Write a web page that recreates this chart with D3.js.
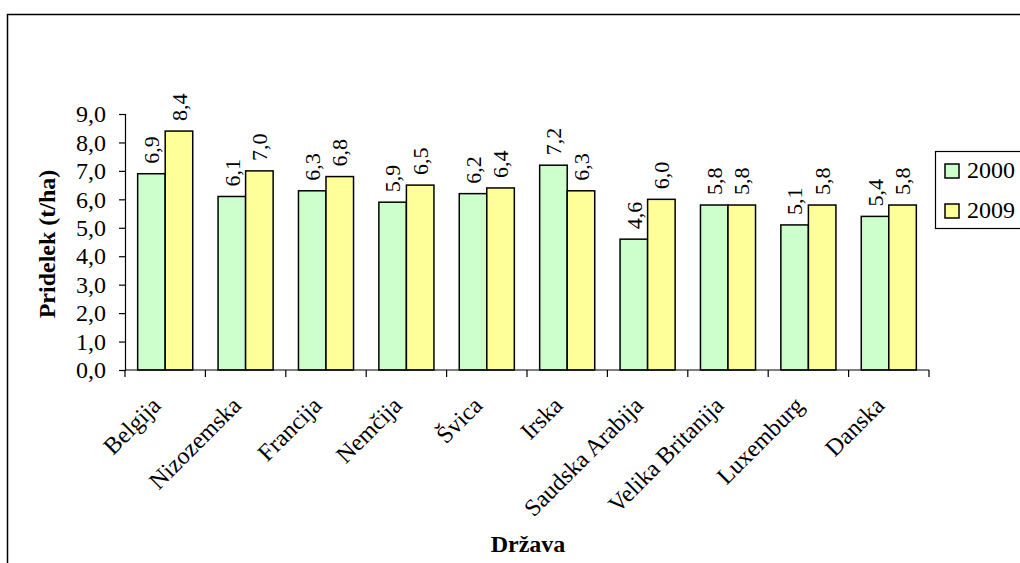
<!DOCTYPE html>
<html>
<head>
<meta charset="utf-8">
<script src="https://cdn.jsdelivr.net/npm/d3@7"></script>
<style>
  html, body { margin: 0; padding: 0; background: #fff; }
  svg { display: block; }
</style>
</head>
<body>
<svg id="chart" width="1020" height="563"></svg>
<script>
// Yield per country (t/ha), 2000 vs 2009
const countries = ["Belgija", "Nizozemska", "Francija", "Nemčija", "Švica", "Irska",
                   "Saudska Arabija", "Velika Britanija", "Luxemburg", "Danska"];
const years = ["2000", "2009"];
const yield2000 = [6.9, 6.1, 6.3, 5.9, 6.2, 7.2, 4.6, 5.8, 5.1, 5.4];
const yield2009 = [8.4, 7.0, 6.8, 6.5, 6.4, 6.3, 6.0, 5.8, 5.8, 5.8];
const yTicks = [0, 1, 2, 3, 4, 5, 6, 7, 8, 9];
const colors = ["#CCFFCC", "#FFFF99"];

const series = [yield2000, yield2009];
const rows = countries.map((c, i) => ({ country: c, values: years.map((yr, j) => ({ year: yr, j, value: series[j][i] })) }));

const svg = d3.select("#chart");
const fmt = v => d3.format(".1f")(v).replace(".", ",");

// pick the first serif face that actually resolves (differs from the default sans width)
function pickSerif() {
  const probe = svg.append("text").attr("x", -999).attr("y", -999).style("font-size", "40px").text("Država Belgija 2000");
  probe.style("font-family", "sans-serif");
  const base = probe.node().getComputedTextLength();
  const candidates = ["Liberation Serif", "Times New Roman", "Times", "Tinos", "Noto Serif", "DejaVu Serif"];
  let found = "serif";
  for (const f of candidates) {
    probe.style("font-family", `'${f}', sans-serif`);
    if (Math.abs(probe.node().getComputedTextLength() - base) > 0.5) { found = `'${f}'`; break; }
  }
  probe.remove();
  return found + ", serif";
}
const FONT = pickSerif();

// outer frame
svg.append("rect")
  .attr("x", 7.5).attr("y", 14.5)
  .attr("width", 1040).attr("height", 580)
  .attr("fill", "none").attr("stroke", "#000").attr("stroke-width", 1.5);

const x = d3.scaleBand().domain(countries).range([125, 929]).paddingInner(0).paddingOuter(0);
const xYear = d3.scaleBand().domain(years).range([0, x.bandwidth()]).paddingInner(0).paddingOuter(0.46);
const y = d3.scaleLinear().domain([0, 9]).range([370, 114]);

// bars
const groups = svg.append("g").selectAll("g")
  .data(rows).join("g")
  .attr("transform", d => `translate(${x(d.country)},0)`);

groups.selectAll("rect")
  .data(d => d.values).join("rect")
  .attr("x", d => xYear(d.year))
  .attr("y", d => y(d.value))
  .attr("width", xYear.bandwidth())
  .attr("height", d => y(0) - y(d.value))
  .attr("fill", d => colors[d.j])
  .attr("stroke", "#000").attr("stroke-width", 1.5);

// value labels
groups.selectAll("text")
  .data(d => d.values).join("text")
  .attr("transform", d => `translate(${xYear(d.year) + xYear.bandwidth() / 2},${y(d.value) - 10}) rotate(-90)`)
  .attr("dy", "0.35em")
  .attr("text-anchor", "start")
  .style("font-family", FONT)
  .style("font-size", "22px")
  .text(d => fmt(d.value));

// y axis
const yAxis = svg.append("g")
  .attr("transform", "translate(125,0)")
  .call(d3.axisLeft(y).tickValues(yTicks).tickSize(6).tickPadding(13).tickFormat(fmt));
yAxis.select(".domain").attr("stroke", "#000").attr("stroke-width", 1.2);
yAxis.selectAll(".tick line").attr("stroke", "#000").attr("stroke-width", 1.2);
yAxis.selectAll(".tick text").attr("fill", "#000").style("font-size", "24px").style("font-family", FONT);

// x axis with ticks at category boundaries
const xAxis = svg.append("g");
const [x0, x1] = x.range();
xAxis.append("line")
  .attr("x1", x0).attr("x2", x1).attr("y1", y(0)).attr("y2", y(0))
  .attr("stroke", "#000").attr("stroke-width", 1.2);
const bounds = countries.map(c => x(c)).concat([x1]);
xAxis.selectAll("line.tick").data(bounds).join("line")
  .attr("class", "tick")
  .attr("x1", d => d).attr("x2", d => d)
  .attr("y1", y(0)).attr("y2", y(0) + 7)
  .attr("stroke", "#000").attr("stroke-width", 1.2);
xAxis.selectAll("text").data(countries).join("text")
  .attr("transform", d => `translate(${x(d) + x.bandwidth() / 2 - 9},${y(0) + 31}) rotate(-45)`)
  .attr("text-anchor", "end")
  .attr("dy", "0.35em")
  .style("font-family", FONT)
  .style("font-size", "24px")
  .text(d => d);

// axis titles
svg.append("text")
  .attr("transform", `translate(55,${(y(0) + y(9)) / 2 + 2}) rotate(-90)`)
  .attr("text-anchor", "middle")
  .style("font-family", FONT)
  .style("font-size", "24px").style("font-weight", "bold")
  .text("Pridelek (t/ha)");
svg.append("text")
  .attr("x", 528).attr("y", 552)
  .attr("text-anchor", "middle")
  .style("font-family", FONT)
  .style("font-size", "24px").style("font-weight", "bold")
  .text("Država");

// legend
const legend = svg.append("g");
legend.append("rect")
  .attr("x", 935.5).attr("y", 151.5).attr("width", 120).attr("height", 77)
  .attr("fill", "#fff").attr("stroke", "#000").attr("stroke-width", 1.2);
const items = legend.selectAll("g.item").data(years).join("g")
  .attr("class", "item")
  .attr("transform", (d, i) => `translate(945,${164 + i * 40})`);
items.append("rect")
  .attr("width", 14).attr("height", 14)
  .attr("fill", (d, i) => colors[i])
  .attr("stroke", "#000").attr("stroke-width", 1.5);
items.append("text")
  .attr("x", 22).attr("y", 14)
  .style("font-family", FONT)
  .style("font-size", "24px")
  .text(d => d);
</script>
</body>
</html>
